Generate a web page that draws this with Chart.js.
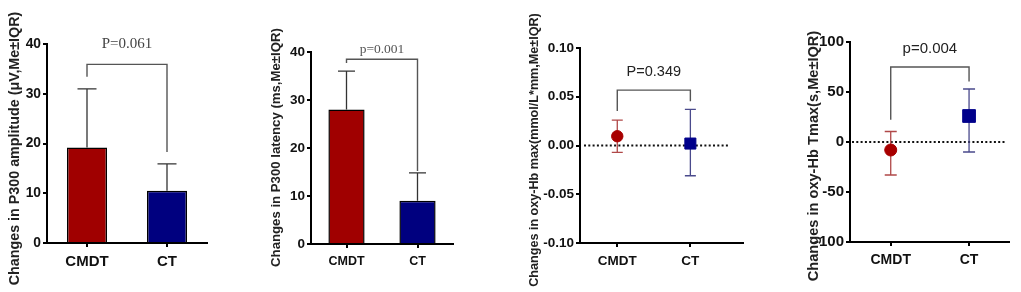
<!DOCTYPE html>
<html><head><meta charset="utf-8">
<script src="https://cdn.jsdelivr.net/npm/chart.js@4.4.1/dist/chart.umd.min.js"></script>
<style>
html,body{margin:0;padding:0;background:#fff;width:1021px;height:292px;overflow:hidden;}
canvas{position:absolute;top:0;}
</style></head><body>
<canvas id="c1" width="255" height="292" style="left:0px"></canvas>
<canvas id="c2" width="255" height="292" style="left:255px"></canvas>
<canvas id="c3" width="255" height="292" style="left:510px"></canvas>
<canvas id="c4" width="256" height="292" style="left:765px"></canvas>
<script>
// ---- data ----
const categories = ['CMDT', 'CT'];
const p300AmpMedian = [19.2, 10.5];
const p300AmpQ3 = [31.0, 15.9];
const p300LatMedian = [28.0, 9.0];
const p300LatQ3 = [36.0, 14.8];
const oxyMaxMedian = [0.0095, 0.002];
const oxyMaxQ1 = [-0.007, -0.031];
const oxyMaxQ3 = [0.026, 0.037];
const tmaxMedian = [-8, 26];
const tmaxQ1 = [-33, -10];
const tmaxQ3 = [10.5, 53];
const pLabels = ['P=0.061', 'p=0.001', 'P=0.349', 'p=0.004'];
const yTitles = [
  'Changes in P300 amplitude (\u03bcV,Me\u00b1IQR)',
  'Changes in P300 latency (ms,Me\u00b1IQR)',
  'Changes in oxy-Hb max(mmol/L*mm,Me\u00b1IQR)',
  'Changes in oxy-Hb Tmax(s,Me\u00b1IQR)'
];

const SANS = "'Liberation Sans', Arial, sans-serif";
const SERIF = "'Liberation Serif', 'Times New Roman', serif";
const RED = '#a00000', BLUE = '#00007f';

const annot = {
  id: 'annot',
  beforeDatasetsDraw(chart, args, o) {
    const ctx = chart.ctx, y = chart.scales.y, ca = chart.chartArea;
    if (o.zeroLine) {
      const py = y.getPixelForValue(0);
      ctx.save();
      ctx.strokeStyle = '#111'; ctx.lineWidth = 2; ctx.setLineDash([2, 2.3]);
      ctx.beginPath(); ctx.moveTo(ca.left + o.zeroLine[0], py); ctx.lineTo(ca.right - o.zeroLine[1], py); ctx.stroke();
      ctx.restore();
    }
    const meta = chart.getDatasetMeta(0), e = o.err;
    meta.data.forEach((el, i) => {
      const px = el.x, yl = y.getPixelForValue(e.lo[i]), yh = y.getPixelForValue(e.hi[i]);
      const hw = e.cap / 2;
      ctx.save();
      ctx.strokeStyle = e.colors[i]; ctx.lineWidth = e.width;
      ctx.beginPath();
      ctx.moveTo(px, yl); ctx.lineTo(px, yh);
      ctx.moveTo(px - hw, yh); ctx.lineTo(px + hw, yh);
      if (e.capLo) { ctx.moveTo(px - hw, yl); ctx.lineTo(px + hw, yl); }
      ctx.stroke();
      ctx.restore();
    });
  },
  afterDraw(chart, args, o) {
    const ctx = chart.ctx, y = chart.scales.y;
    const meta = chart.getDatasetMeta(0), b = o.bracket;
    const xl = meta.data[0].x, xr = meta.data[1].x;
    const yt = y.getPixelForValue(b.top), yl = y.getPixelForValue(b.left), yr = y.getPixelForValue(b.right);
    ctx.save();
    ctx.strokeStyle = b.color; ctx.lineWidth = 1.4;
    ctx.beginPath(); ctx.moveTo(xl, yl); ctx.lineTo(xl, yt); ctx.lineTo(xr, yt); ctx.lineTo(xr, yr); ctx.stroke();
    ctx.fillStyle = b.textColor; ctx.font = b.font; ctx.textAlign = 'center'; ctx.textBaseline = 'middle';
    ctx.fillText(b.label, (xl + xr) / 2 + b.dx, yt - b.dy);
    ctx.restore();
    const t = o.title;
    ctx.save();
    ctx.translate(t.x, t.y); ctx.rotate(-Math.PI / 2);
    ctx.fillStyle = '#222'; ctx.font = t.font; ctx.textAlign = 'center'; ctx.textBaseline = 'middle';
    ctx.fillText(t.text, 0, 0);
    ctx.restore();
  }
};

function axisCommon(fontSize, pad) {
  return {
    grid: { display: true, drawOnChartArea: false, offset: false, tickLength: 4, tickColor: '#000', lineWidth: 2 },
    border: { display: true, color: '#000', width: 2 },
    ticks: { color: '#111', padding: pad, font: { family: SANS, weight: 'bold', size: fontSize } }
  };
}

function makeChart(id, W, A, cfg) {
  const xs = axisCommon(cfg.xFont, cfg.xPad);
  xs.afterFit = s => { s.height = 292 - A.bottom; };
  if (cfg.xLinear) {
    xs.type = 'linear'; xs.min = cfg.xLinear[0]; xs.max = cfg.xLinear[1];
    xs.afterBuildTicks = s => { s.ticks = categories.map((c, i) => ({ value: i + 1 })); };
    xs.ticks.callback = v => categories[Math.round(v) - 1];
  }
  const ys = axisCommon(cfg.yFont, 2);
  ys.min = cfg.yMin; ys.max = cfg.yMax;
  ys.ticks.stepSize = cfg.step;
  if (cfg.yCb) ys.ticks.callback = cfg.yCb;
  ys.afterFit = s => { s.width = A.left; };
  return new Chart(document.getElementById(id), {
    type: cfg.type,
    data: cfg.data,
    options: {
      responsive: false, animation: false, events: [],
      layout: { padding: { left: 0, top: A.top, right: W - A.right, bottom: 0 } },
      plugins: { legend: { display: false }, tooltip: { enabled: false }, annot: cfg.annot },
      scales: { x: xs, y: ys }
    },
    plugins: [annot]
  });
}

// Panel 1
makeChart('c1', 255, { left: 47, right: 207, top: 44, bottom: 243 }, {
  type: 'bar', xFont: 15, xPad: 6, yFont: 13.8, yMin: 0, yMax: 40, step: 10,
  data: { labels: categories, datasets: [{ data: p300AmpMedian, backgroundColor: [RED, BLUE], borderColor: '#000', borderWidth: 1.5, barPercentage: 1, categoryPercentage: 0.5 }] },
  annot: {
    err: { lo: p300AmpMedian, hi: p300AmpQ3, capLo: false, cap: 19, width: 1.3, colors: ['#333', '#333'] },
    bracket: { top: 35.9, left: 33.4, right: 18.3, label: pLabels[0], font: '15px ' + SERIF, color: '#555', textColor: '#444', dx: 0, dy: 20 },
    title: { text: yTitles[0], x: 15, y: 148.5, font: 'bold 14.3px ' + SANS }
  }
});

// Panel 2
makeChart('c2', 255, { left: 56, right: 198, top: 52, bottom: 244 }, {
  type: 'bar', xFont: 12.5, xPad: 6, yFont: 13.5, yMin: 0, yMax: 40, step: 10,
  data: { labels: categories, datasets: [{ data: p300LatMedian, backgroundColor: [RED, BLUE], borderColor: '#000', borderWidth: 1.5, barPercentage: 1, categoryPercentage: 0.51 }] },
  annot: {
    err: { lo: p300LatMedian, hi: p300LatQ3, capLo: false, cap: 17, width: 1.3, colors: ['#333', '#333'] },
    bracket: { top: 38.5, left: 37.7, right: 15.2, label: pLabels[1], font: '13.5px ' + SERIF, color: '#555', textColor: '#555', dx: 0, dy: 10 },
    title: { text: yTitles[1], x: 21.5, y: 147.5, font: 'bold 13.2px ' + SANS }
  }
});

function scatterData(med) {
  return med.map((v, i) => ({ x: i + 1, y: v }));
}

// Panel 3
makeChart('c3', 255, { left: 70, right: 233, top: 48, bottom: 243 }, {
  type: 'scatter', xFont: 13.5, xPad: 6, yFont: 13.5, yMin: -0.1, yMax: 0.1, step: 0.05,
  yCb: v => Number(v).toFixed(2),
  xLinear: [0.49, 2.72],
  data: { datasets: [{ data: scatterData(oxyMaxMedian), pointStyle: ['circle', 'rect'], pointRadius: [5.7, 7.8], backgroundColor: ['#a80000', '#00008b'], borderColor: ['#a80000', '#00008b'], borderWidth: 1 }] },
  annot: {
    zeroLine: [4, 15],
    err: { lo: oxyMaxQ1, hi: oxyMaxQ3, capLo: true, cap: 11, width: 1.3, colors: ['#b04848', '#4a4a8c'] },
    bracket: { top: 0.0568, left: 0.0353, right: 0.0455, label: pLabels[2], font: '14.5px ' + SANS, color: '#555', textColor: '#222', dx: 0, dy: 18 },
    title: { text: yTitles[2], x: 25, y: 150, font: 'bold 12.6px ' + SANS }
  }
});

// Panel 4
makeChart('c4', 256, { left: 85, right: 244, top: 42, bottom: 242 }, {
  type: 'scatter', xFont: 14, xPad: 6, yFont: 15, yMin: -100, yMax: 100, step: 50,
  xLinear: [0.48, 2.51],
  data: { datasets: [{ data: scatterData(tmaxMedian), pointStyle: ['circle', 'rect'], pointRadius: [6, 9], backgroundColor: ['#a80000', '#00008b'], borderColor: ['#a80000', '#00008b'], borderWidth: 1 }] },
  annot: {
    zeroLine: [2, 4],
    err: { lo: tmaxQ1, hi: tmaxQ3, capLo: true, cap: 12, width: 1.3, colors: ['#b04848', '#4a4a8c'] },
    bracket: { top: 75, left: 22.3, right: 60.6, label: pLabels[3], font: '15px ' + SANS, color: '#555', textColor: '#222', dx: 0, dy: 18 },
    title: { text: yTitles[3], x: 49, y: 156, font: 'bold 14.6px ' + SANS }
  }
});
</script>
</body></html>
